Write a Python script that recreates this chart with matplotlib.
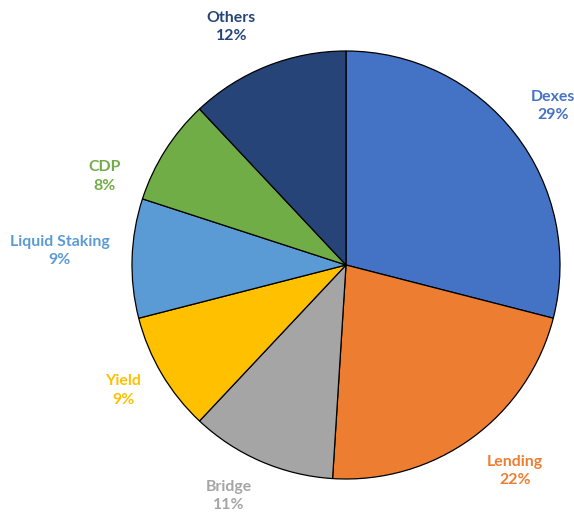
import numpy as np
import matplotlib.pyplot as plt

# Share by category
categories = ['Dexes', 'Lending', 'Bridge', 'Yield', 'Liquid Staking', 'CDP', 'Others']
shares = [29, 22, 11, 9, 9, 8, 12]
colors = ['#4472C4', '#ED7D31', '#A5A5A5', '#FFC000', '#5B9BD5', '#70AD47', '#264478']

# Label placement (radius multiple, angle nudge in degrees)
label_dist = [1.22, 1.245, 1.21, 1.196, 1.34, 1.2, 1.235]
label_nudge = [-0.3, 3.3, -3.6, -1.2, -1.0, 12.2, 4.1]

plt.rcParams['font.family'] = ['Lato', 'DejaVu Sans']

fig = plt.figure(figsize=(5.74, 5.17), dpi=100)
r_px = 214
cx, cy = 346, 265
ax = fig.add_axes([(cx - r_px) / 574, (517 - cy - r_px) / 517, 2 * r_px / 574, 2 * r_px / 517])

wedges, _ = ax.pie(shares, colors=colors, startangle=90, counterclock=False,
                   wedgeprops=dict(edgecolor='black', linewidth=0.9), radius=1)
ax.set_xlim(-1, 1)
ax.set_ylim(-1, 1)
ax.set_aspect('equal')

for w, name, val, col, d, nudge in zip(wedges, categories, shares, colors, label_dist, label_nudge):
    mid = np.deg2rad((w.theta1 + w.theta2) / 2 + nudge)
    ax.text(d * np.cos(mid), d * np.sin(mid), f'{name}\n{val}%', color=col,
            ha='center', va='center', fontsize=11.4, fontweight='bold',
            linespacing=1.4, clip_on=False)

fig.savefig('out.png', dpi=100)
